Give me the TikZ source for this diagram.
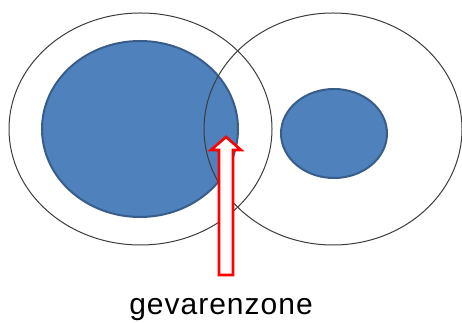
\documentclass[tikz,border=0pt]{standalone}
\usepackage{fontspec}
\setmainfont{Liberation Sans}
\usetikzlibrary{shapes.geometric}
\definecolor{zoneblue}{RGB}{79,129,189}
\definecolor{zoneedge}{RGB}{56,93,138}
\definecolor{rangeline}{RGB}{60,60,60}

\begin{document}
\begin{tikzpicture}[
  x=1pt,y=1pt,
  reach/.style={ellipse,draw=rangeline,line width=1pt,inner sep=0pt},
  core/.style={ellipse,draw=zoneedge,fill=zoneblue,line width=2pt,inner sep=0pt},
  pointer/.style={draw=red,fill=white,line width=2.6pt,line join=miter}
]
\useasboundingbox (0,0) rectangle (462,323);

\node[reach,minimum width=263pt,minimum height=232pt] (leftreach) at (140.5,194) {};
\node[core,minimum width=196pt,minimum height=176pt] (leftcore) at (140,194) {};
\node[reach,minimum width=258pt,minimum height=232pt] (rightreach) at (333,194) {};
\node[core,minimum width=106pt,minimum height=89pt] (rightcore) at (334,189.5) {};

% block arrow pointing into the overlap
\draw[pointer] (219,48) -- (233,48) -- (233,173) -- (241,173) -- (226,186)
  -- (211,173) -- (219,173) -- cycle;

\node[anchor=base,font=\fontsize{30}{36}\selectfont,inner sep=0pt] (zone) at (221,8)
  {g\kern1pt e\kern1pt v\kern1pt a\kern1pt r\kern1pt e\kern1pt n\kern1pt z\kern1pt o\kern1pt n\kern1pt e};
\end{tikzpicture}
\end{document}
